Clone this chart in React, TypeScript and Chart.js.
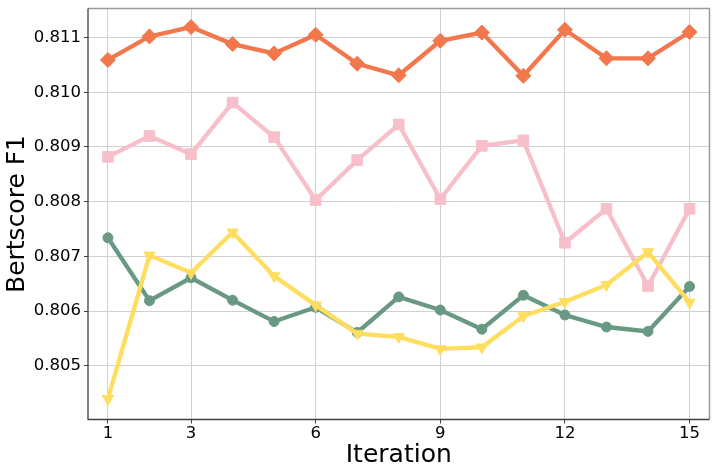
import React, { useEffect, useRef } from "react";
import { Chart, registerables } from "chart.js";

Chart.register(...registerables);

const iterations = [1, 2, 3, 4, 5, 6, 7, 8, 9, 10, 11, 12, 13, 14, 15];
const xTickValues = [1, 3, 6, 9, 12, 15];
const yTickValues = [0.805, 0.806, 0.807, 0.808, 0.809, 0.81, 0.811];

const orangeSeries = [
  0.81059, 0.81102, 0.81119, 0.81088, 0.81071, 0.81105, 0.81052, 0.81031,
  0.81094, 0.81109, 0.8103, 0.81114, 0.81062, 0.81062, 0.8111,
];
const pinkSeries = [
  0.80882, 0.8092, 0.80887, 0.80981, 0.80918, 0.80803, 0.80876, 0.80941,
  0.80805, 0.80902, 0.80912, 0.80725, 0.80787, 0.80646, 0.80787,
];
const greenSeries = [
  0.80734, 0.80619, 0.80661, 0.8062, 0.80581, 0.80607, 0.80561, 0.80626,
  0.80602, 0.80567, 0.80629, 0.80593, 0.80571, 0.80563, 0.80645,
];
const yellowSeries = [
  0.8044, 0.80702, 0.8067, 0.80744, 0.80664, 0.80611, 0.80559, 0.80553,
  0.80531, 0.80534, 0.80591, 0.80617, 0.80648, 0.80708, 0.80616,
];

const FONT = "'DejaVu Sans', sans-serif";

const framePlugin = {
  id: "frame",
  afterDraw(chart: any) {
    const { ctx, chartArea } = chart;
    const { left, right, top, bottom } = chartArea;
    ctx.save();
    ctx.lineWidth = 1.5;
    ctx.strokeStyle = "#9a9a9a";
    ctx.beginPath();
    ctx.moveTo(left, top);
    ctx.lineTo(right, top);
    ctx.lineTo(right, bottom);
    ctx.stroke();
    ctx.strokeStyle = "#404040";
    ctx.lineWidth = 1.3;
    ctx.beginPath();
    ctx.moveTo(left, top);
    ctx.lineTo(left, bottom);
    ctx.lineTo(right, bottom);
    ctx.stroke();
    ctx.restore();
  },
};

function toPoints(vals: number[]) {
  return iterations.map((x, i) => ({ x, y: vals[i] }));
}

export default function App() {
  const ref = useRef<HTMLCanvasElement | null>(null);

  useEffect(() => {
    if (!ref.current) return;
    const mk = (
      label: string,
      vals: number[],
      color: string,
      pointStyle: string,
      radius: number,
      rotation = 0
    ) => ({
      label,
      data: toPoints(vals),
      borderColor: color,
      backgroundColor: color,
      pointBackgroundColor: color,
      pointBorderColor: color,
      borderWidth: 4.3,
      pointStyle,
      pointRadius: radius,
      pointBorderWidth: 1,
      pointRotation: rotation,
      tension: 0,
      clip: false as any,
    });

    const chart = new Chart(ref.current, {
      type: "line",
      data: {
        datasets: [
          mk("yellow", yellowSeries, "#FFDD5E", "triangle", 6.5, 180),
          mk("green", greenSeries, "#6A9983", "circle", 5),
          mk("pink", pinkSeries, "#F6BFCA", "rect", 7.5),
          mk("orange", orangeSeries, "#F3774D", "rectRot", 7.5),
        ],
      },
      options: {
        animation: false,
        responsive: false,
        devicePixelRatio: 1,
        layout: { padding: { top: 6, right: 6.5, left: 0, bottom: 0 } },
        plugins: {
          legend: { display: false },
          tooltip: { enabled: false },
        },
        scales: {
          x: {
            type: "linear",
            min: 0.52,
            max: 15.48,
            afterBuildTicks: (scale: any) => {
              scale.ticks = xTickValues.map((v) => ({ value: v }));
            },
            afterFit: (scale: any) => {
              scale.height = 46.5;
              scale.paddingLeft = 0;
              scale.paddingRight = 0;
            },
            grid: {
              color: "#d0d0d0",
              lineWidth: 1,
              tickLength: 4,
              tickColor: "#404040",
            },
            border: { display: false },
            ticks: {
              padding: 0,
              color: "#000",
              font: { family: FONT, size: 16.5, lineHeight: 1.2 },
              callback: (v: any) => String(v),
              maxRotation: 0,
              autoSkip: false,
            },
            title: {
              display: true,
              text: "Iteration",
              color: "#000",
              font: { family: FONT, size: 25, lineHeight: 0.85 },
              padding: { top: 0, bottom: 0 },
            },
          },
          y: {
            type: "linear",
            min: 0.80402,
            max: 0.81153,
            afterBuildTicks: (scale: any) => {
              scale.ticks = yTickValues.map((v) => ({ value: v }));
            },
            afterFit: (scale: any) => {
              scale.width = 88;
              scale.paddingTop = 0;
              scale.paddingBottom = 0;
            },
            grid: {
              color: "#d0d0d0",
              lineWidth: 1,
              tickLength: 4,
              tickColor: "#404040",
            },
            border: { display: false },
            ticks: {
              padding: 3,
              color: "#000",
              font: { family: FONT, size: 16.5, lineHeight: 1.2 },
              callback: (v: any) => Number(v).toFixed(3),
              autoSkip: false,
            },
            title: {
              display: true,
              text: "Bertscore F1",
              color: "#000",
              font: { family: FONT, size: 25, lineHeight: 1.2 },
              padding: { top: 2.4, bottom: 0 },
            },
          },
        },
      },
      plugins: [framePlugin],
    } as any);

    return () => chart.destroy();
  }, []);

  return (
    <div style={{ position: "fixed", left: 0, top: 0, width: 718, height: 466, background: "#fff" }}>
      <canvas ref={ref} width={718} height={466} style={{ width: 718, height: 466, display: "block" }} />
    </div>
  );
}
